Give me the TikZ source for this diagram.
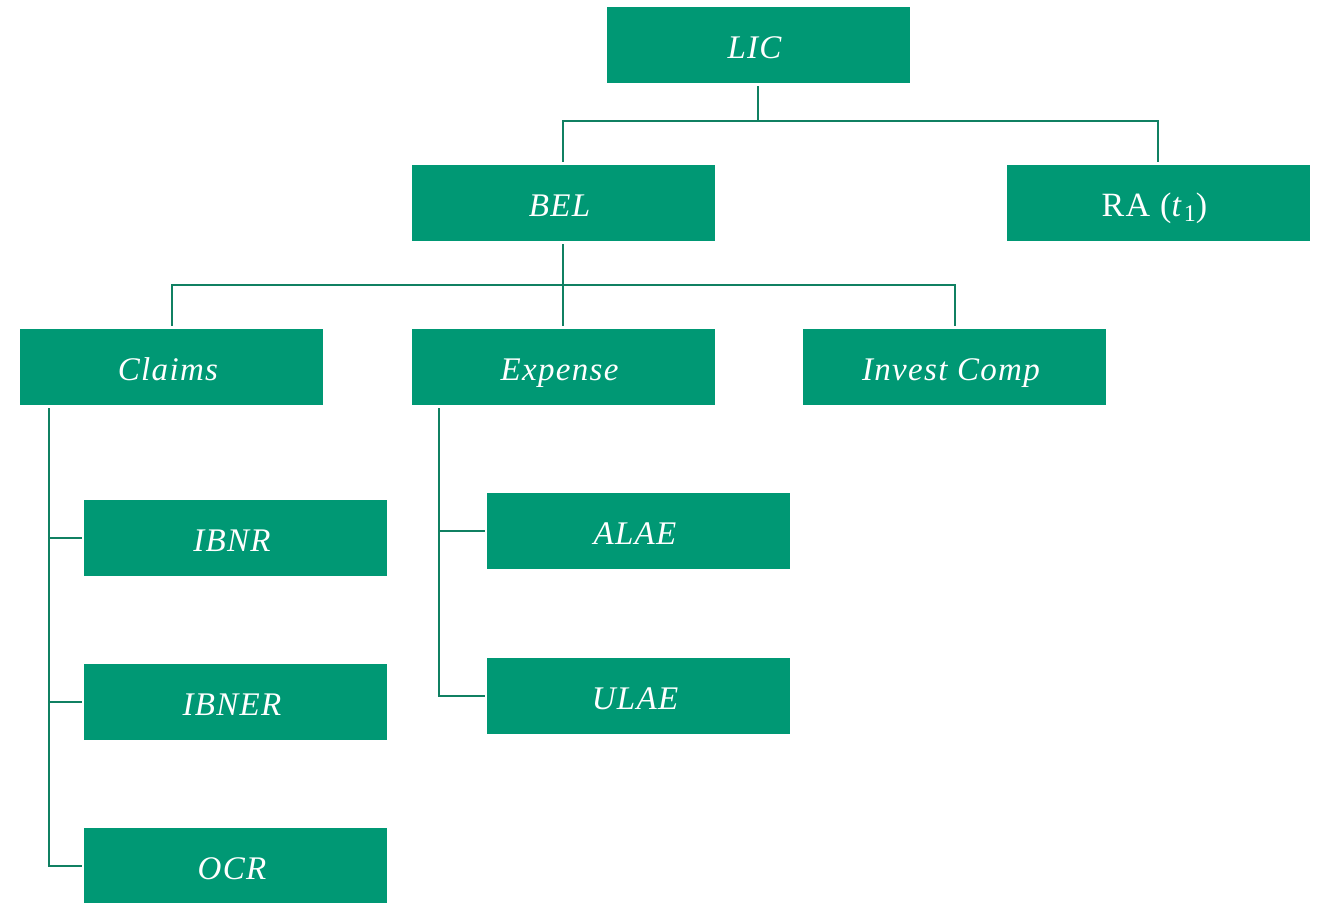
\documentclass[tikz,border=0pt]{standalone}
\usepackage{fontspec}
\setmainfont{Liberation Serif}
\newfontfamily\boxfont[LetterSpace=4]{Liberation Serif}
\definecolor{boxgreen}{RGB}{0,152,116}
\definecolor{linkgreen}{RGB}{16,128,98}
\begin{document}
\begin{tikzpicture}[x=1pt,y=-1pt,
  box/.style={fill=boxgreen, draw=none, minimum width=303pt, minimum height=76pt,
    inner sep=0pt, text height=30pt, text depth=4pt, text=white,
    execute at end node=\kern7pt,
    font=\boxfont\fontsize{33}{36}\selectfont\itshape},
  link/.style={draw=linkgreen, line width=2pt}]
\useasboundingbox (0,0) rectangle (1321,902);

% boxes
\node[box] (lic)    at (758,45)    {LIC};
\node[box] (bel)    at (563,203)   {BEL};
\node[box, font=\boxfont\fontsize{34}{36}\selectfont] (ra) at (1158,203)
  {RA (\textit{t}\kern1pt\raisebox{-0.35ex}{\fontsize{24}{24}\selectfont 1})};
\node[box] (claims) at (171.5,367) {Claims};
\node[box] (exp)    at (563,367)   {Expense};
\node[box] (inv)    at (954.5,367) {Invest Comp};
\node[box] (ibnr)   at (235.5,538) {IBNR};
\node[box] (ibner)  at (235.5,702) {IBNER};
\node[box] (ocr)    at (235.5,866) {OCR};
\node[box] (alae)   at (638.5,531) {ALAE};
\node[box] (ulae)   at (638.5,696) {ULAE};

% LIC -> BEL, RA
\coordinate (j1) at ([yshift=-38pt]lic.south);
\draw[link] ([yshift=-3pt]lic.south) -- (j1);
\draw[link] (j1) -| ([yshift=3pt]bel.north);
\draw[link] (j1) -| ([yshift=3pt]ra.north);

% BEL -> Claims, Expense, Invest Comp
\coordinate (j2) at ([yshift=-44pt]bel.south);
\draw[link] ([yshift=-3pt]bel.south) -- (j2);
\draw[link] (j2) -| ([yshift=3pt]claims.north);
\draw[link] (j2) -- ([yshift=3pt]exp.north);
\draw[link] (j2) -| ([yshift=3pt]inv.north);

% Claims -> IBNR, IBNER, OCR
\coordinate (ct) at ([xshift=29pt,yshift=-3pt]claims.south west);
\draw[link] (ct) |- ([xshift=-2pt]ocr.west);
\draw[link] ([xshift=-2pt]ibnr.west) -- (ct |- ibnr.west);
\draw[link] ([xshift=-2pt]ibner.west) -- (ct |- ibner.west);

% Expense -> ALAE, ULAE
\coordinate (et) at ([xshift=28pt,yshift=-3pt]exp.south west);
\draw[link] (et) |- ([xshift=-2pt]ulae.west);
\draw[link] ([xshift=-2pt]alae.west) -- (et |- alae.west);
\end{tikzpicture}
\end{document}
